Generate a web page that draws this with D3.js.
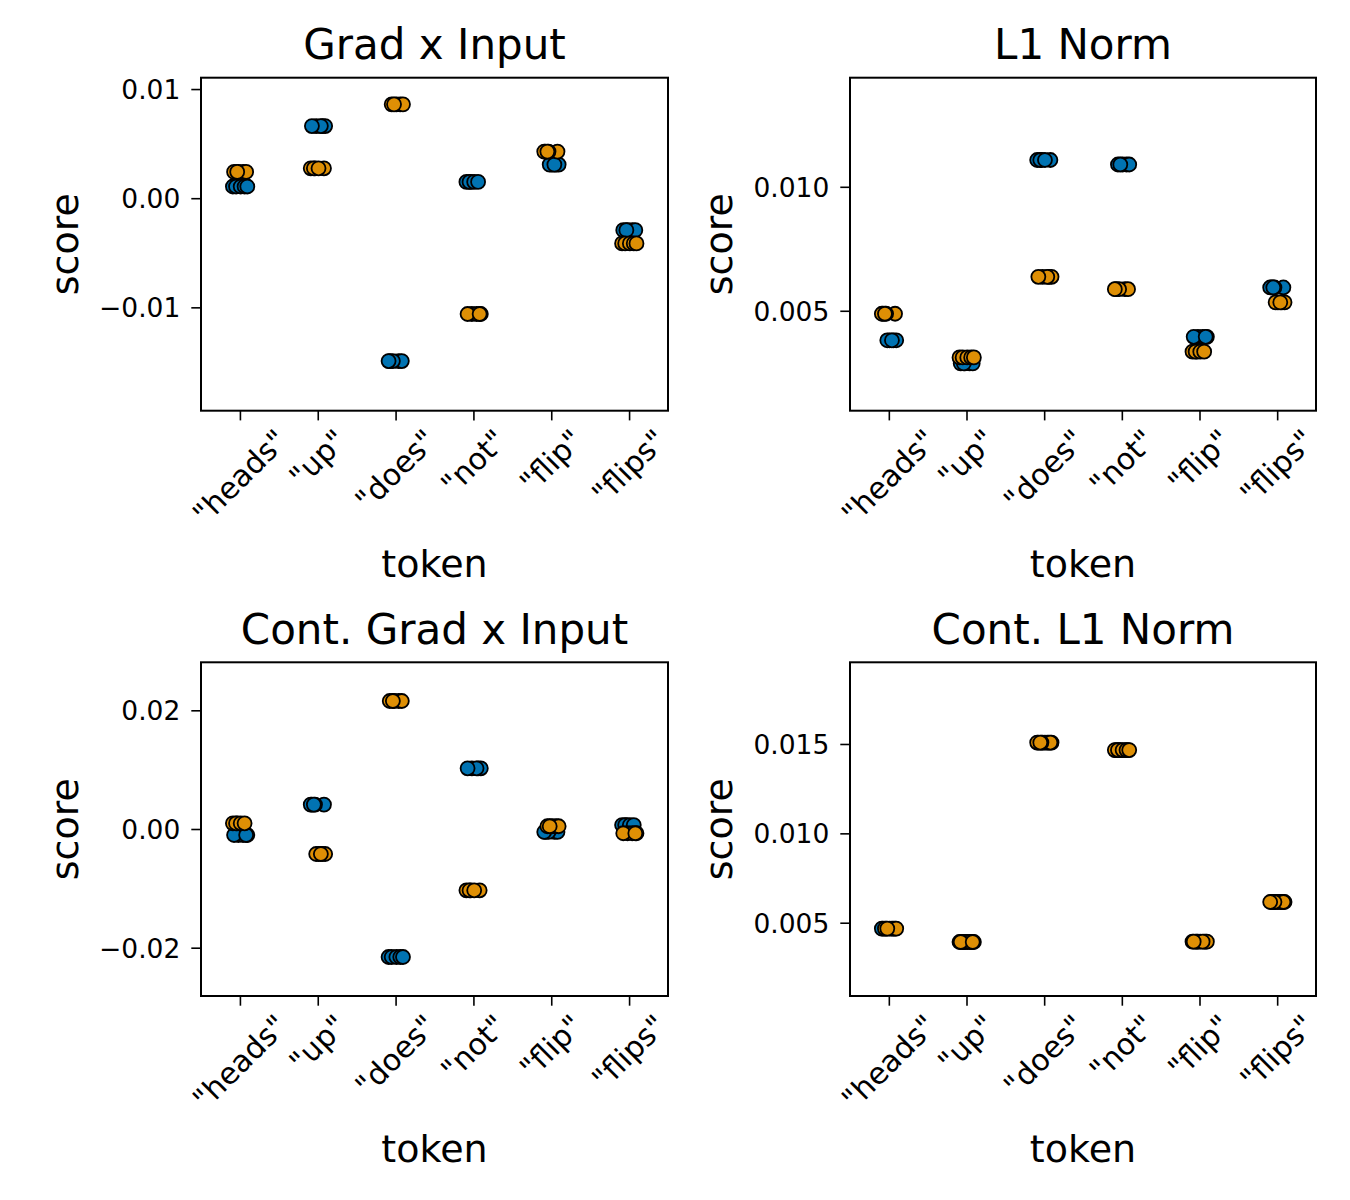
<!DOCTYPE html>
<html>
<head>
<meta charset="utf-8">
<script src="https://cdn.jsdelivr.net/npm/d3@7"></script>
<style>
  body { margin: 0; background: #fff; }
  svg { display: block; font-family: "DejaVu Sans", sans-serif; }
</style>
</head>
<body>
<div id="chart"></div>
<script>
// tokens on the x axis
const tokens = ['"heads"', '"up"', '"does"', '"not"', '"flip"', '"flips"'];

// scores, one value per token (blue series / orange series)
const gradInputBlue   = [0.00107, 0.00661, -0.01492, 0.00149, 0.00308, -0.00293];
const gradInputOrange = [0.00241, 0.00274, 0.00860, -0.01061, 0.00427, -0.00414];
const l1Blue          = [0.00381, 0.00288, 0.01108, 0.01090, 0.00395, 0.00594];
const l1Orange        = [0.00488, 0.00312, 0.00637, 0.00587, 0.00335, 0.00534];
const contGradBlue    = [-0.00101, 0.00411, -0.02157, 0.01023, -0.00050, 0.00067];
const contGradOrange  = [0.00096, -0.00421, 0.02157, -0.01033, 0.00046, -0.00072];
const contL1Blue      = [0.00467, 0.00392, 0.01508, 0.01466, 0.00394, 0.00616];
const contL1Orange    = [0.00467, 0.00392, 0.01508, 0.01466, 0.00394, 0.00616];

// y ticks per panel
const gradInputTicks = [-0.01, 0, 0.01];
const l1Ticks        = [0.005, 0.010];
const contGradTicks  = [-0.02, 0, 0.02];
const contL1Ticks    = [0.005, 0.010, 0.015];

// strip-plot jitter (fraction of the category step), repeated runs per token
const jitter = [-0.09, -0.05, 0.01, 0.06, 0.095, -0.02, 0.04, -0.075, 0.08, -0.035];
const runs = 5;

const blue = "#0173b2", orange = "#de8f05";
const width = 1350, height = 1200;

const panels = [
  {title: "Grad x Input", blue: gradInputBlue, orange: gradInputOrange, ticks: gradInputTicks,
   domain: [-0.01947, 0.01104], fmt: ".2f", x0: 201, x1: 668, y0: 77.7, y1: 410.7},
  {title: "L1 Norm", blue: l1Blue, orange: l1Orange, ticks: l1Ticks,
   domain: [0.00097, 0.01440], fmt: ".3f", x0: 850, x1: 1316, y0: 77.7, y1: 410.7},
  {title: "Cont. Grad x Input", blue: contGradBlue, orange: contGradOrange, ticks: contGradTicks,
   domain: [-0.02814, 0.02809], fmt: ".2f", x0: 201, x1: 668, y0: 662.3, y1: 996},
  {title: "Cont. L1 Norm", blue: contL1Blue, orange: contL1Orange, ticks: contL1Ticks,
   domain: [0.00090, 0.01957], fmt: ".3f", x0: 850, x1: 1316, y0: 662.3, y1: 996}
];

const svg = d3.select("#chart")
  .append("svg")
    .attr("width", width)
    .attr("height", height)
    .attr("viewBox", [0, 0, width, height]);

const yTickFont = 26.5, xTickFont = 30, labelFont = 38, titleFont = 42;

panels.forEach((p, pi) => {
  const g = svg.append("g");
  const x = d3.scalePoint().domain(tokens).range([p.x0, p.x1]).padding(0.5);
  const y = d3.scaleLinear().domain(p.domain).range([p.y1, p.y0]);
  const step = x.step();

  // points: blue runs first, orange on top
  [[p.blue, blue], [p.orange, orange]].forEach(([vals, col], si) => {
    tokens.forEach((t, i) => {
      const start = (i * 3 + si * 5 + pi * 2) % jitter.length;
      const offs = d3.range(runs).map(k => jitter[(start + k) % jitter.length]);
      g.append("g").selectAll("circle")
        .data(offs)
        .join("circle")
          .attr("cx", d => x(t) + d * step)
          .attr("cy", y(vals[i]))
          .attr("r", 7)
          .attr("fill", col)
          .attr("stroke", "#000")
          .attr("stroke-width", 1.8);
    });
  });

  // frame
  g.append("rect")
    .attr("x", p.x0).attr("y", p.y0)
    .attr("width", p.x1 - p.x0).attr("height", p.y1 - p.y0)
    .attr("fill", "none").attr("stroke", "#000").attr("stroke-width", 2);

  // y axis
  const yAxis = g.append("g")
    .attr("transform", `translate(${p.x0},0)`)
    .call(d3.axisLeft(y).tickValues(p.ticks).tickFormat(d3.format(p.fmt))
      .tickSize(9.7).tickPadding(11).tickSizeOuter(0));
  yAxis.select(".domain").remove();
  yAxis.selectAll(".tick line").attr("stroke-width", 1.6);
  yAxis.selectAll(".tick text")
    .attr("font-size", yTickFont).attr("font-family", "DejaVu Sans")
    .attr("fill", "#000").attr("dy", "0.36em");

  // x axis with rotated labels
  const xAxis = g.append("g")
    .attr("transform", `translate(0,${p.y1})`)
    .call(d3.axisBottom(x).tickSize(9.7).tickSizeOuter(0));
  xAxis.select(".domain").remove();
  xAxis.selectAll(".tick line").attr("stroke-width", 1.6);
  xAxis.selectAll(".tick text").remove();
  const labTop = p.y1 + 9.7 + 5;
  tokens.forEach(t => {
    const txt = g.append("text")
      .attr("font-size", xTickFont)
      .attr("text-anchor", "middle")
      .attr("dominant-baseline", "central")
      .text(t);
    const L = txt.node().getComputedTextLength();
    const h = xTickFont * 0.9;
    const half = (L + h) / (2 * Math.SQRT2);
    txt.attr("transform", `translate(${x(t)},${labTop + half}) rotate(-45)`);
  });

  // y label placed left of the widest tick label
  const minX = d3.min(yAxis.selectAll(".tick text").nodes(), n => n.getBBox().x) + p.x0;
  g.append("text")
    .attr("transform", `translate(${minX - 21},${(p.y0 + p.y1) / 2}) rotate(-90)`)
    .attr("text-anchor", "middle")
    .attr("font-size", labelFont)
    .text("score");

  // x label
  g.append("text")
    .attr("x", (p.x0 + p.x1) / 2)
    .attr("y", p.y1 + 166)
    .attr("text-anchor", "middle")
    .attr("font-size", labelFont)
    .text("token");

  // title
  g.append("text")
    .attr("x", (p.x0 + p.x1) / 2)
    .attr("y", p.y0 - 18.7)
    .attr("text-anchor", "middle")
    .attr("font-size", titleFont)
    .text(p.title);
});
</script>
</body>
</html>
